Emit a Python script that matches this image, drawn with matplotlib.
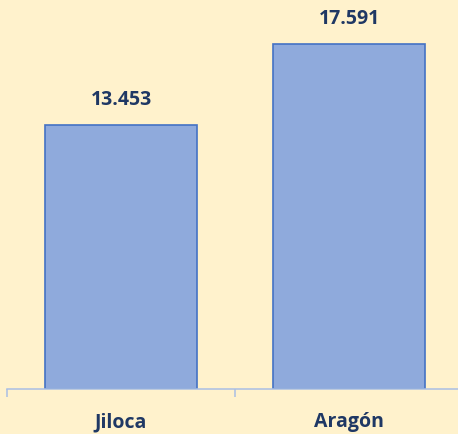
import matplotlib.pyplot as plt

categories = ['Jiloca', 'Aragón']
values = [13.453, 17.591]
value_labels = ['13.453', '17.591']

BG = '#FFF2CC'
BAR = '#8FAADC'
EDGE = '#4472C4'
TEXT = '#1F3864'
AXIS = '#A9BFE4'

plt.rcParams['font.family'] = ['Open Sans', 'DejaVu Sans']

fig = plt.figure(figsize=(4.58, 4.35), dpi=100)
fig.patch.set_facecolor(BG)
ax = fig.add_axes([7 / 458, 45 / 435, 456 / 458, 390 / 435])
ax.set_facecolor(BG)

x = list(range(len(categories)))
ax.bar(x, values, width=0.667, color=BAR, edgecolor=EDGE, linewidth=1.2)

for xi, v, lab in zip(x, values, value_labels):
    ax.annotate(lab, (xi, v), xytext=(0, 11.5), textcoords='offset points',
                ha='center', va='bottom', fontsize=14, fontweight='bold',
                color=TEXT)

ax.set_xlim(-0.5, 1.5)
ax.set_ylim(0, 19.89)

for s in ['left', 'right', 'top']:
    ax.spines[s].set_visible(False)
ax.spines['bottom'].set_color(AXIS)
ax.spines['bottom'].set_linewidth(1.1)

ax.set_yticks([])
ax.set_xticks(x)
ax.set_xticklabels(categories, fontsize=14, fontweight='bold', color=TEXT)
ax.tick_params(axis='x', which='major', length=0, pad=16)
ax.set_xticks([-0.5, 0.5, 1.5], minor=True)
ax.tick_params(axis='x', which='minor', length=6, width=1.1, color=AXIS)

fig.savefig('out.png', dpi=100, facecolor=BG)
